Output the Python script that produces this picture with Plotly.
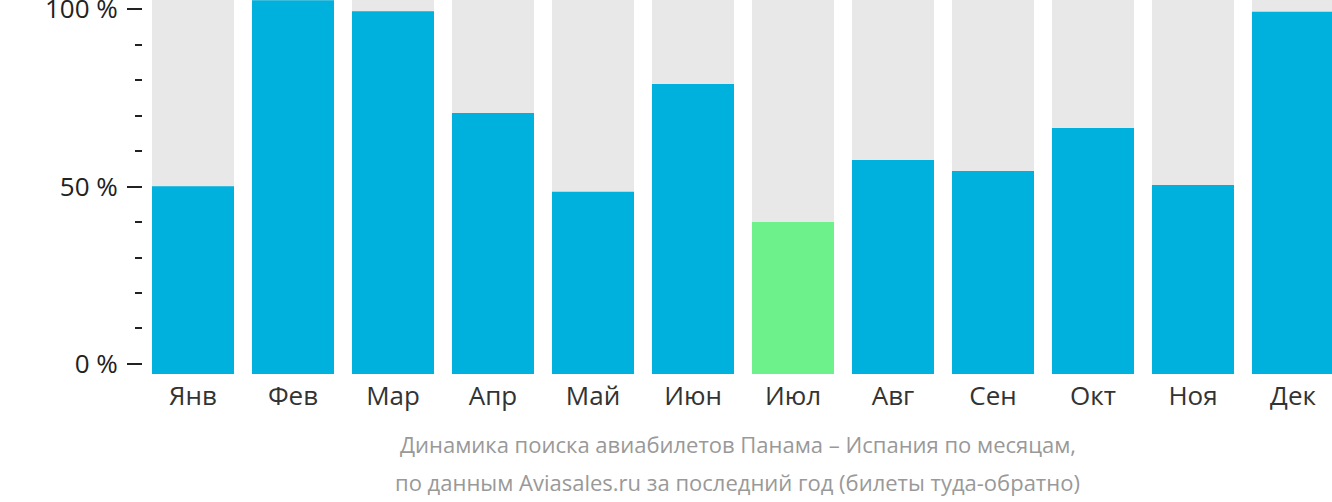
import plotly.graph_objects as go

months = ["Янв", "Фев", "Мар", "Апр", "Май", "Июн", "Июл", "Авг", "Сен", "Окт", "Ноя", "Дек"]
values = [50.1, 102.5, 99.4, 70.7, 48.5, 78.9, 40.0, 57.5, 54.4, 66.5, 50.4, 99.2]
highlight = "Июл"
y_ticks = [0, 50, 100]
y_tick_text = ["0 %", "50 %", "100 %"]
caption_lines = [
    "Динамика поиска авиабилетов Панама – Испания по месяцам,",
    "по данным Aviasales.ru за последний год (билеты туда-обратно)",
]

Y_MIN, Y_MAX = -2.82, 102.54
BLUE = "#00b1dd"
GREEN = "#6df18a"
GRAY = "#e8e8e8"

colors = [GREEN if m == highlight else BLUE for m in months]

fig = go.Figure()
fig.add_trace(go.Bar(
    x=months, y=[Y_MAX - Y_MIN] * len(months), base=Y_MIN,
    marker=dict(color=GRAY, line=dict(width=0)), hoverinfo="skip", showlegend=False,
))
fig.add_trace(go.Bar(
    x=months, y=[v - Y_MIN for v in values], base=Y_MIN,
    marker=dict(color=colors, line=dict(width=0)), showlegend=False,
))

fig.update_layout(
    width=1332, height=502,
    margin=dict(l=143, r=0, t=0, b=128),
    barmode="overlay", bargap=0.18,
    plot_bgcolor="white", paper_bgcolor="white",
    font=dict(family="Open Sans", color="#222222"),
    xaxis=dict(
        type="category", range=[-0.5, 11.39], showgrid=False, zeroline=False,
        showline=False, ticks="", tickfont=dict(size=26, color="#333333"),
        ticklabelstandoff=4, automargin=False,
    ),
    yaxis=dict(
        range=[Y_MIN, Y_MAX], tickvals=y_ticks, ticktext=y_tick_text,
        showgrid=False, zeroline=False, showline=False,
        ticks="outside", ticklen=15, tickwidth=2, tickcolor="#222222",
        tickfont=dict(size=26, color="#222222"), ticklabelstandoff=4,
        ticklabeloverflow="allow", automargin=False,
        minor=dict(dtick=10, tick0=0, ticks="outside", ticklen=7, tickwidth=2,
                   tickcolor="#222222", showgrid=False),
    ),
)

for i, line in enumerate(caption_lines):
    fig.add_annotation(
        text=line, xref="paper", yref="paper", x=0.5, y=0,
        xanchor="center", yanchor="middle", showarrow=False,
        yshift=-(444 - 374) - 38 * i,
        font=dict(size=22, color="#999999", family="Open Sans"),
    )

fig.write_html("out.html")
